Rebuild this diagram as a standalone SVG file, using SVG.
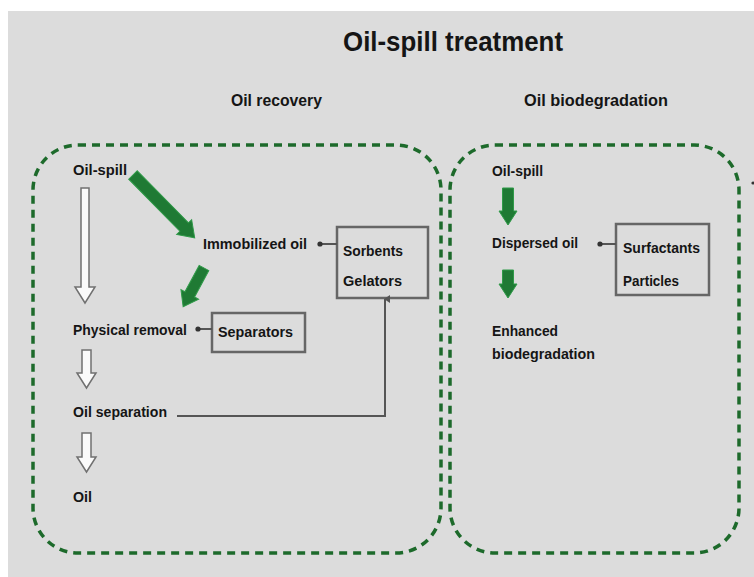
<svg xmlns="http://www.w3.org/2000/svg" width="754" height="577" viewBox="0 0 754 577">
<defs>
<style>
.t{font-family:"Liberation Sans",Arial,sans-serif;font-weight:bold;fill:#151515;font-size:15px}
.title{font-size:28px}
.sub{font-size:16px}
.dash{fill:none;stroke:#1d6a2b;stroke-width:3.5;stroke-dasharray:8 6}
.box{fill:none;stroke:#666;stroke-width:2.5}
.green{fill:#1f7a34;stroke:#2f9a48;stroke-width:1}
.hollow{fill:#fafafa;stroke:#707070;stroke-width:1.5}
.conn{fill:none;stroke:#555;stroke-width:2}
.dot{fill:#333}
</style>
<marker id="up" markerWidth="8" markerHeight="8" refX="4" refY="1" orient="auto" markerUnits="userSpaceOnUse">
<path d="M0,6 L4,0 L8,6 Z" fill="#555"/>
</marker>
</defs>
<rect x="0" y="0" width="754" height="577" fill="#ffffff"/>
<rect x="8" y="11" width="746" height="566" fill="#dcdcdc"/>
<g id="titles">
<text class="t title" x="343" y="51" textLength="220" lengthAdjust="spacingAndGlyphs">Oil-spill treatment</text>
<text class="t sub" x="231" y="106" textLength="91" lengthAdjust="spacingAndGlyphs">Oil recovery</text>
<text class="t sub" x="524" y="106" textLength="144" lengthAdjust="spacingAndGlyphs">Oil biodegradation</text>
</g>
<g id="group-recovery"><rect class="dash" x="33" y="145" width="408" height="408" rx="45" ry="45"/></g>
<g id="group-biodegradation"><rect class="dash" x="450" y="145" width="289" height="408" rx="45" ry="45"/></g>
<g id="n-oilspill-left"><text class="t" x="73" y="175" textLength="54" lengthAdjust="spacingAndGlyphs">Oil-spill</text></g>
<g id="n-immobilized"><text class="t" x="203" y="249" textLength="104" lengthAdjust="spacingAndGlyphs">Immobilized oil</text></g>
<g id="n-sorbents"><rect class="box" x="337" y="227" width="91" height="71"/>
<text class="t" x="343" y="256" textLength="60" lengthAdjust="spacingAndGlyphs">Sorbents</text>
<text class="t" x="343" y="286" textLength="59" lengthAdjust="spacingAndGlyphs">Gelators</text></g>
<g id="n-physical"><text class="t" x="73" y="335" textLength="114" lengthAdjust="spacingAndGlyphs">Physical removal</text></g>
<g id="n-separators"><rect class="box" x="212" y="313" width="93" height="39"/>
<text class="t" x="218" y="337" textLength="75" lengthAdjust="spacingAndGlyphs">Separators</text></g>
<g id="n-oilseparation"><text class="t" x="73" y="417" textLength="94" lengthAdjust="spacingAndGlyphs">Oil separation</text></g>
<g id="n-oil"><text class="t" x="73" y="502" textLength="19" lengthAdjust="spacingAndGlyphs">Oil</text></g>
<g id="n-oilspill-right"><text class="t" x="492" y="176" textLength="51" lengthAdjust="spacingAndGlyphs">Oil-spill</text></g>
<g id="n-dispersed"><text class="t" x="492" y="248" textLength="86" lengthAdjust="spacingAndGlyphs">Dispersed oil</text></g>
<g id="n-surfactants"><rect class="box" x="616" y="224" width="93" height="71"/>
<text class="t" x="623" y="253" textLength="77" lengthAdjust="spacingAndGlyphs">Surfactants</text>
<text class="t" x="623" y="286" textLength="56" lengthAdjust="spacingAndGlyphs">Particles</text></g>
<g id="n-enhanced"><text class="t" x="492" y="336" textLength="66" lengthAdjust="spacingAndGlyphs">Enhanced</text>
<text class="t" x="492" y="359" textLength="103" lengthAdjust="spacingAndGlyphs">biodegradation</text></g>
<g id="connectors">
<path class="green" transform="translate(133,175) rotate(45.5)" d="M0,-6 L73,-6 L73,-10.5 L88,0 L73,10.5 L73,6 L0,6 Z"/>
<path class="green" transform="translate(204,268) rotate(118.3)" d="M0,-5.5 L30,-5.5 L30,-10 L44,0 L30,10 L30,5.5 L0,5.5 Z"/>
<path class="green" transform="translate(508,188) rotate(90)" d="M0,-5.5 L23,-5.5 L23,-9 L37,0 L23,9 L23,5.5 L0,5.5 Z"/>
<path class="green" transform="translate(508,270) rotate(90)" d="M0,-5.5 L14,-5.5 L14,-9 L28,0 L14,9 L14,5.5 L0,5.5 Z"/>
<path class="hollow" d="M81,188 L89,188 L89,287 L95,287 L85,303 L75,287 L81,287 Z"/>
<path class="hollow" d="M82,350 L91,350 L91,373 L96,373 L86.5,388 L77,373 L82,373 Z"/>
<path class="hollow" d="M82,433 L91,433 L91,457 L96,457 L86.5,472 L77,457 L82,457 Z"/>
<line class="conn" x1="337" y1="244" x2="320" y2="244"/><circle class="dot" cx="320" cy="244" r="2.6"/>
<line class="conn" x1="212" y1="329" x2="198" y2="329"/><circle class="dot" cx="198" cy="329" r="2.6"/>
<line class="conn" x1="616" y1="244" x2="600" y2="244"/><circle class="dot" cx="600" cy="244" r="2.6"/>
<path class="conn" d="M177,416 L385,416 L385,299" marker-end="url(#up)"/>
</g>
<circle cx="753" cy="183" r="1.6" fill="#333"/>
</svg>
